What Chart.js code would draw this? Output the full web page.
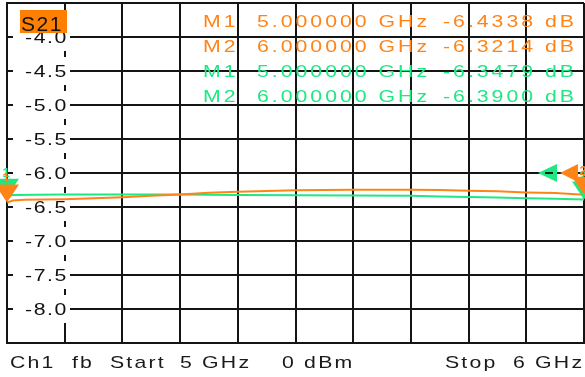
<!DOCTYPE html>
<html>
<head>
<meta charset="utf-8">
<script src="https://cdn.jsdelivr.net/npm/chart.js@4.4.1/dist/chart.umd.min.js"></script>
<style>
  html, body { margin: 0; padding: 0; background: #ffffff; }
  #wrap { width: 585px; height: 377px; position: relative; }
</style>
</head>
<body>
<div id="wrap"><canvas id="c" width="585" height="377"></canvas></div>
<script>
// Trace 1 (orange): S21 magnitude, dB vs frequency in GHz
const freq1 = [5.00, 5.01, 5.03, 5.06, 5.10, 5.15, 5.20, 5.25, 5.30, 5.35, 5.40, 5.45,
               5.50, 5.55, 5.60, 5.65, 5.70, 5.75, 5.80, 5.85, 5.90, 5.95, 6.00];
const trace1 = [-6.434, -6.405, -6.395, -6.39, -6.385, -6.37, -6.355, -6.335, -6.315, -6.29, -6.275, -6.265,
                -6.255, -6.25, -6.245, -6.245, -6.245, -6.25, -6.26, -6.27, -6.285, -6.295, -6.321];

// Trace 2 (green): S21 magnitude, dB vs frequency in GHz
const freq2 = [5.00, 5.01, 5.05, 5.10, 5.20, 5.30, 5.40, 5.50, 5.60, 5.70, 5.75, 5.80, 5.85, 5.90, 5.95, 6.00];
const trace2 = [-6.348, -6.325, -6.32, -6.318, -6.315, -6.318, -6.322, -6.327, -6.33, -6.335, -6.345, -6.352,
                -6.36, -6.37, -6.38, -6.39];

// Markers M1 / M2
const markerNames = ['M1', 'M2'];
const markerFreq = [5.0, 6.0];
const markerFreqText = ['5.000000 GHz', '6.000000 GHz'];
const markers1 = [-6.4338, -6.3214];
const markers2 = [-6.3479, -6.3900];

// Axis setup
const freqStart = 5, freqStop = 6, freqStep = 0.1;
const dbMin = -8.5, dbMax = -3.5, dbStep = 0.5;
const yTickLabels = ['-4.0', '-4.5', '-5.0', '-5.5', '-6.0', '-6.5', '-7.0', '-7.5', '-8.0'];
const refLevel = -6.0;
const traceName = 'S21';
const footerWords = ['Ch1', 'fb', 'Start', '5 GHz', '0 dBm', 'Stop', '6 GHz'];

const ORANGE = '#ff8418';
const GREEN = '#1ee882';
const GRID = '#141414';
const FONT = "'Liberation Sans', Arial, sans-serif";

const pts = (xs, ys) => xs.map((x, i) => ({ x, y: ys[i] }));

// Wide, screen-style lettering: horizontally stretched glyphs with a little tracking
function wideText(ctx, text, x, y, size, color, stretch = 1.25, spacing = 1.6) {
  ctx.save();
  ctx.translate(x, y);
  ctx.scale(stretch, 1);
  ctx.font = size + 'px ' + FONT;
  if ('letterSpacing' in ctx) ctx.letterSpacing = (spacing / stretch) + 'px';
  ctx.textAlign = 'left';
  ctx.textBaseline = 'alphabetic';
  ctx.fillStyle = color;
  ctx.fillText(text, 0, 0);
  ctx.restore();
}

// y labels sit inside the grid on a white patch, under the traces
const yLabelPlugin = {
  id: 'yLabels',
  beforeDatasetsDraw(chart) {
    const ctx = chart.ctx, y = chart.scales.y;
    yTickLabels.forEach(t => {
      const py = y.getPixelForValue(parseFloat(t));
      ctx.fillStyle = '#ffffff';
      ctx.fillRect(13, py - 14, 57, 28);
      wideText(ctx, t, 25, py + 6, 17, '#111111', 1.25, 1.6);
    });
  }
};

function tri(ctx, p1, p2, p3, color) {
  ctx.beginPath();
  ctx.moveTo(p1[0], p1[1]);
  ctx.lineTo(p2[0], p2[1]);
  ctx.lineTo(p3[0], p3[1]);
  ctx.closePath();
  ctx.fillStyle = color;
  ctx.fill();
}

const overlayPlugin = {
  id: 'overlay',
  afterDatasetsDraw(chart) {
    const ctx = chart.ctx, xs = chart.scales.x, ys = chart.scales.y;
    ctx.save();

    // reference level indicators on the right edge
    const ry = ys.getPixelForValue(refLevel);
    tri(ctx, [538, ry], [557, ry - 9], [557, ry + 9], GREEN);
    ctx.strokeStyle = '#222';
    ctx.lineWidth = 2;
    ctx.beginPath(); ctx.moveTo(545, ry); ctx.lineTo(553, ry); ctx.stroke();
    tri(ctx, [560, ry], [578, ry - 9], [578, ry + 9], ORANGE);

    // marker triangles (tip on the trace value) with their numbers
    const drawMarkers = (vals, color) => {
      vals.forEach((v, i) => {
        const px = xs.getPixelForValue(markerFreq[i]);
        const py = ys.getPixelForValue(v);
        tri(ctx, [px - 12, py - 18], [px + 12, py - 18], [px, py], color);
        ctx.save();
        ctx.fillStyle = color;
        ctx.font = 'bold 13px ' + FONT;
        ctx.textAlign = 'center';
        ctx.textBaseline = 'alphabetic';
        ctx.fillText(String(i + 1), px - 1, py - 20);
        ctx.restore();
      });
    };
    drawMarkers(markers2, GREEN);
    drawMarkers(markers1, ORANGE);

    // trace name tag
    ctx.fillStyle = '#ff8000';
    ctx.fillRect(20, 10, 47, 23);
    wideText(ctx, traceName, 21, 31, 20, '#111', 1.05, 1.5);

    // marker readout
    const rowY = [21, 46, 71, 96];
    let r = 0;
    [[markers1, ORANGE], [markers2, GREEN]].forEach(([vals, color]) => {
      vals.forEach((v, i) => {
        const by = rowY[r++] + 6;
        wideText(ctx, markerNames[i], 203, by, 17, color, 1.25, 3);
        wideText(ctx, markerFreqText[i], 257, by, 17, color, 1.25, 3);
        wideText(ctx, v.toFixed(4) + ' dB', 443, by, 17, color, 1.25, 3);
      });
    });

    // channel footer
    const footerX = [10, 72, 110, 180, 282, 445, 513];
    footerWords.forEach((w, i) => wideText(ctx, w, footerX[i], 368, 17, '#1a1a1a', 1.25, 2.2));

    ctx.restore();
  }
};

const chart = new Chart(document.getElementById('c'), {
  type: 'line',
  data: {
    datasets: [
      { label: traceName + ' Trc1', data: pts(freq1, trace1), borderColor: ORANGE, borderWidth: 2,
        pointRadius: 0, tension: 0, fill: false },
      { label: traceName + ' Trc2', data: pts(freq2, trace2), borderColor: GREEN, borderWidth: 2,
        pointRadius: 0, tension: 0, fill: false }
    ]
  },
  options: {
    responsive: false,
    animation: false,
    events: [],
    layout: { padding: { left: 7, top: 3, right: 1, bottom: 34 } },
    scales: {
      x: {
        type: 'linear', min: freqStart, max: freqStop,
        ticks: { display: false, stepSize: freqStep },
        grid: { color: GRID, lineWidth: 2, drawTicks: false },
        border: { display: true, color: GRID, width: 2 }
      },
      y: {
        type: 'linear', min: dbMin, max: dbMax,
        ticks: { display: false, stepSize: dbStep },
        grid: { color: GRID, lineWidth: 2, drawTicks: false },
        border: { display: true, color: GRID, width: 2 }
      }
    },
    plugins: { legend: { display: false }, tooltip: { enabled: false } }
  },
  plugins: [yLabelPlugin, overlayPlugin]
});
</script>
</body>
</html>
